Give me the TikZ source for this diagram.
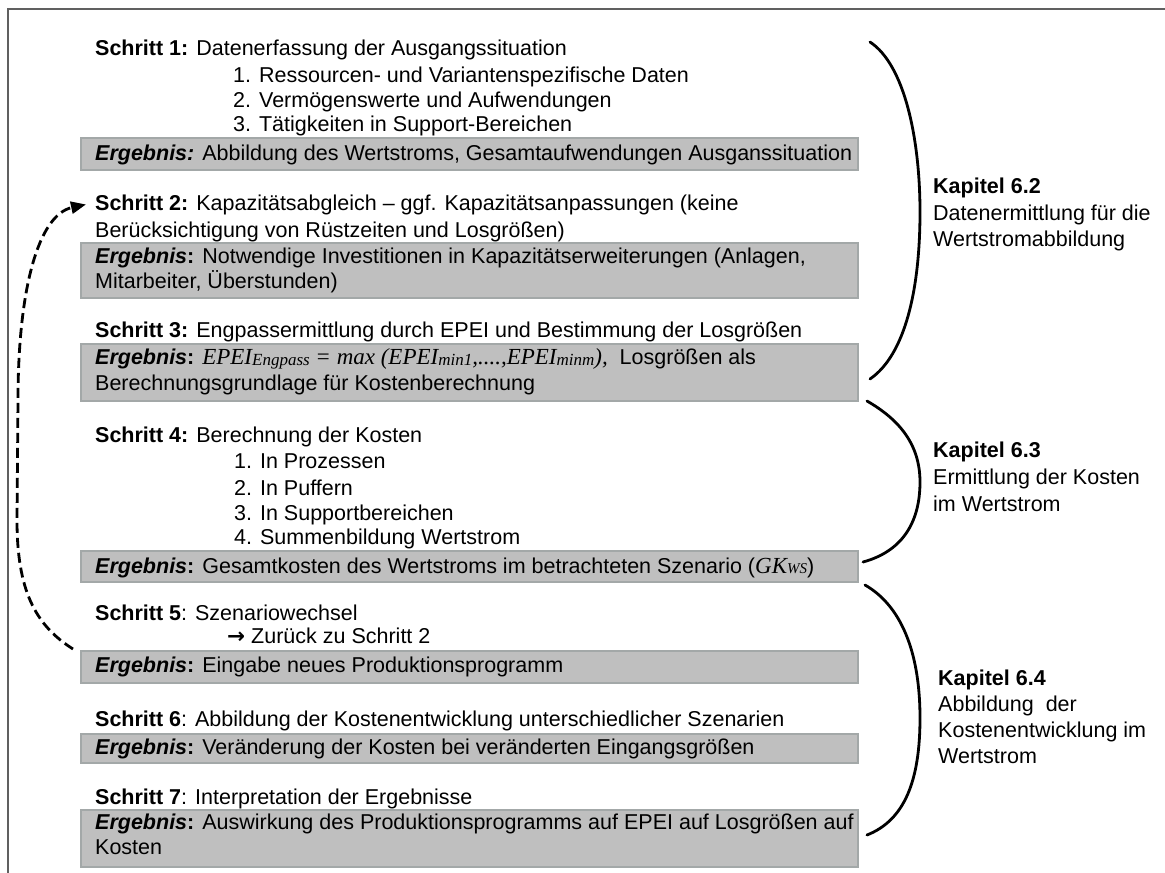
\documentclass[tikz,border=0pt]{standalone}
\usepackage{fontspec}
\setmainfont{Liberation Sans}
\newfontfamily\formelfont{Liberation Serif}
\newfontfamily\pfeilfont{DejaVu Sans}
\usetikzlibrary{arrows.meta}

\definecolor{boxfill}{HTML}{BFBFBF}
\definecolor{boxline}{HTML}{A3A8A8}
\definecolor{framecol}{HTML}{606060}

\newcommand{\erg}{\textbf{\textit{Ergebnis}:}}
\newcommand{\formel}[1]{{\fontsize{23}{26}\formelfont\itshape #1}}
\newcommand{\idx}[1]{\raisebox{-0.12ex}{\fontsize{17}{17}\selectfont #1}}

\tikzset{
  txt/.style={anchor=base west, inner sep=0pt, font=\fontsize{21.5}{26}\selectfont},
  ergbox/.style={draw=boxline, fill=boxfill, line width=2pt, inner sep=0pt,
                 anchor=north west, minimum width=777pt},
  klammer/.style={line width=2.8pt, line cap=round},
  rueck/.style={line width=2.8pt, dash pattern=on 10pt off 5pt,
                -{Triangle[length=15pt,width=12pt]}},
}

\begin{document}
\begin{tikzpicture}[x=1pt,y=-1pt]
\useasboundingbox (0,0) rectangle (1165,873);

% outer frame (only top and left edge lie inside the page)
\draw[framecol, line width=1.5pt] (8,900) -- (8,9) -- (1200,9);

% result boxes
\node[ergbox, minimum height=32pt] (b1) at (80,137) {};
\node[ergbox, minimum height=55pt] (b2) at (80,242) {};
\node[ergbox, minimum height=57pt] (b3) at (80,343) {};
\node[ergbox, minimum height=31pt] (b4) at (80,550) {};
\node[ergbox, minimum height=32pt] (b5) at (80,650) {};
\node[ergbox, minimum height=29pt] (b6) at (80,733) {};
\node[ergbox, minimum height=57pt] (b7) at (80,809) {};

% step 1
\node[txt] (s1)  at (95,55)  {\textbf{Schritt 1:} Datenerfassung der Ausgangssituation};
\node[txt] (s1a) at (233,82) {1. Ressourcen- und Variantenspezifische Daten};
\node[txt] (s1b) at (233,107) {2. Vermögenswerte und Aufwendungen};
\node[txt] (s1c) at (233,131) {3. Tätigkeiten in Support-Bereichen};
\node[txt] (e1)  at (95,160) {\textbf{\textit{Ergebnis:}} Abbildung des Wertstroms, Gesamtaufwendungen Ausganssituation};

% step 2
\node[txt] (s2a) at (95,210) {\textbf{Schritt 2:} Kapazitätsabgleich – ggf. Kapazitätsanpassungen (keine};
\node[txt] (s2b) at (95,237) {Berücksichtigung von Rüstzeiten und Losgrößen)};
\node[txt] (e2a) at (95,263) {\erg{} Notwendige Investitionen in Kapazitätserweiterungen (Anlagen,};
\node[txt] (e2b) at (95,288) {Mitarbeiter, Überstunden)};

% step 3
\node[txt] (s3)  at (95,337) {\textbf{Schritt 3:} Engpassermittlung durch EPEI und Bestimmung der Losgrößen};
\node[txt] (e3a) at (95,364) {\erg{} \formel{EPEI\idx{Engpass} = max (EPEI\idx{min1},....,EPEI\idx{minm}),}\ \ Losgrößen als};
\node[txt] (e3b) at (95,390) {Berechnungsgrundlage für Kostenberechnung};

% step 4
\node[txt] (s4)  at (95,442)  {\textbf{Schritt 4:} Berechnung der Kosten};
\node[txt] (s4a) at (234,468) {1. In Prozessen};
\node[txt] (s4b) at (234,495) {2. In Puffern};
\node[txt] (s4c) at (234,520) {3. In Supportbereichen};
\node[txt] (s4d) at (234,544) {4. Summenbildung Wertstrom};
\node[txt] (e4)  at (95,573)  {\erg{} Gesamtkosten des Wertstroms im betrachteten Szenario (\formel{GK{\fontsize{15}{15}\selectfont WS}})};

% step 5
\node[txt] (s5)  at (95,620)  {\textbf{Schritt 5}: Szenariowechsel};
\node[txt] (s5a) at (227,643) {{\pfeilfont\bfseries →} Zurück zu Schritt 2};
\node[txt] (e5)  at (95,672)  {\erg{} Eingabe neues Produktionsprogramm};

% step 6
\node[txt] (s6)  at (95,726) {\textbf{Schritt 6}: Abbildung der Kostenentwicklung unterschiedlicher Szenarien};
\node[txt] (e6)  at (95,754) {\erg{} Veränderung der Kosten bei veränderten Eingangsgrößen};

% step 7
\node[txt] (s7)  at (95,804) {\textbf{Schritt 7}: Interpretation der Ergebnisse};
\node[txt] (e7a) at (95,829) {\erg{} Auswirkung des Produktionsprogramms auf EPEI auf Losgrößen auf};
\node[txt] (e7b) at (95,854) {Kosten};

% loop back from step 5 to step 2
\draw[rueck] ([xshift=-7pt,yshift=1pt]b5.north west)
  .. controls (35,625) and (17,590) .. (17,520)
  -- (18,400)
  .. controls (18,290) and (38,215) .. ([xshift=-9pt]s2a.west);

% chapter braces
\draw[klammer] (870,42) .. controls (905,65) and (920,140) .. (920,212)
               .. controls (920,290) and (905,355) .. (870,379);
\draw[klammer] (867,401) .. controls (900,420) and (920,445) .. (920,482)
               .. controls (920,525) and (900,552) .. (863,562);
\draw[klammer] (865,585) .. controls (900,605) and (920,650) .. (920,718)
               .. controls (920,780) and (905,820) .. (867,835);

% chapter labels
\node[txt] (k2)  at (933,193) {\textbf{Kapitel 6.2}};
\node[txt] (k2a) at (933,220) {Datenermittlung für die};
\node[txt] (k2b) at (933,246) {Wertstromabbildung};
\node[txt] (k3)  at (933,457) {\textbf{Kapitel 6.3}};
\node[txt] (k3a) at (933,484) {Ermittlung der Kosten};
\node[txt] (k3b) at (933,511) {im Wertstrom};
\node[txt] (k4)  at (938,685) {\textbf{Kapitel 6.4}};
\node[txt] (k4a) at (938,711) {Abbildung\ \ der};
\node[txt] (k4b) at (938,737) {Kostenentwicklung im};
\node[txt] (k4c) at (938,763) {Wertstrom};
\end{tikzpicture}
\end{document}
